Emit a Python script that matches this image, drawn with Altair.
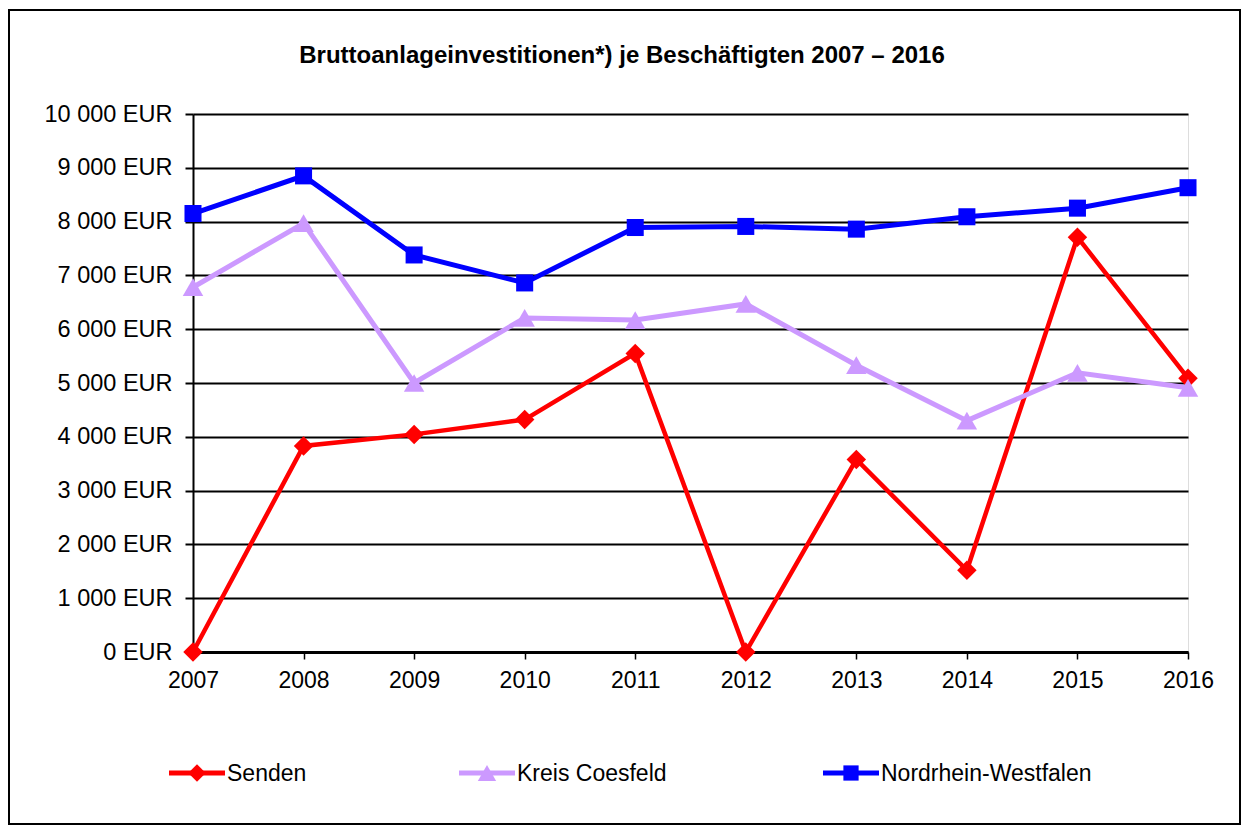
import altair as alt
import pandas as pd

# ---- data ----
years = [2007, 2008, 2009, 2010, 2011, 2012, 2013, 2014, 2015, 2016]
senden = [0, 3830, 4045, 4320, 5550, 0, 3580, 1520, 7710, 5090]
kreis = [6780, 7970, 5000, 6210, 6170, 6470, 5330, 4300, 5190, 4910]
nrw = [8150, 8850, 7380, 6860, 7890, 7910, 7860, 8090, 8250, 8630]

series_names = ["Senden", "Kreis Coesfeld", "Nordrhein-Westfalen"]
series_colors = ["#FF0000", "#CC99FF", "#0000FF"]
series_shapes = ["diamond", "triangle-up", "square"]
marker_sizes = [380, 420, 290]
line_widths = [4.5, 5, 5]
legend_centers = [4, 294, 658]
y_ticks = [0, 1000, 2000, 3000, 4000, 5000, 6000, 7000, 8000, 9000, 10000]
title_text = "Bruttoanlageinvestitionen*) je Beschäftigten 2007 – 2016"

FONT = "Liberation Sans"

values = [senden, kreis, nrw]
df = pd.DataFrame({
    "year": [y for _ in series_names for y in years],
    "value": [v for vals in values for v in vals],
    "series": [n for n in series_names for _ in years],
})
legend_df = pd.DataFrame({"series": series_names})

x_axis = alt.Axis(
    title=None, labelAngle=0, labelFont=FONT, labelFontSize=23, labelColor="black",
    tickColor="black", tickSize=7, tickWidth=1.5, domainColor="black", domainWidth=3,
    labelPadding=10, grid=False,
)
y_axis = alt.Axis(
    title=None, values=y_ticks,
    labelExpr="replace(format(datum.value, ',d'), ',', ' ') + ' EUR'",
    labelFont=FONT, labelFontSize=23.5, labelColor="black",
    tickColor="black", tickSize=8, tickWidth=2, domainColor="black", domainWidth=2,
    labelPadding=13, grid=True, gridColor="black", gridWidth=2,
)

x_enc = alt.X("year:O", scale=alt.Scale(type="point", padding=0), axis=x_axis)
y_enc = alt.Y("value:Q", scale=alt.Scale(domain=[0, 10000], nice=False), axis=y_axis)

layers = []
for name, color, shape, size, lw in zip(series_names, series_colors, series_shapes, marker_sizes, line_widths):
    base = alt.Chart(df).transform_filter(alt.datum.series == name)
    layers.append(base.mark_line(color=color, strokeWidth=lw).encode(x=x_enc, y=y_enc))
    layers.append(base.mark_point(shape=shape, filled=True, color=color, size=size, opacity=1)
                  .encode(x=x_enc, y=y_enc))

# legend (line + marker + label per series)
for name, color, shape, size, cx in zip(series_names, series_colors, series_shapes, marker_sizes, legend_centers):
    lb = alt.Chart(legend_df).transform_filter(alt.datum.series == name)
    layers.append(lb.mark_rule(color=color, strokeWidth=5).encode(
        x=alt.value(cx - 28), x2=alt.value(cx + 28), y=alt.value(659)))
    layers.append(lb.mark_point(shape=shape, filled=True, color=color, size=size * 0.8, opacity=1).encode(
        x=alt.value(cx), y=alt.value(659)))
    layers.append(lb.mark_text(align="left", baseline="middle", font=FONT, fontSize=23, color="black").encode(
        x=alt.value(cx + 30), y=alt.value(660), text="series:N"))

title = alt.Chart(legend_df).transform_filter(alt.datum.series == series_names[0]).mark_text(
    align="center", baseline="alphabetic", font=FONT, fontSize=24, fontWeight="bold", color="black"
).encode(x=alt.value(429), y=alt.value(-51), text=alt.value(title_text))
layers.append(title)

border = alt.Chart(legend_df).transform_filter(alt.datum.series == series_names[0]).mark_rect(
    fillOpacity=0, stroke="black", strokeWidth=2
).encode(x=alt.value(-184), x2=alt.value(1047), y=alt.value(-104), y2=alt.value(710))
layers.append(border)

chart = alt.layer(*layers).properties(
    width=995, height=538,
    autosize=alt.AutoSizeParams(type="none"),
    padding={"left": 185, "top": 106, "right": 54, "bottom": 174},
).configure_view(fill="#FFFFCC", stroke="black", strokeWidth=2).configure(background="white")

chart.save("out.html", embed_options={"renderer": "svg", "actions": False})
